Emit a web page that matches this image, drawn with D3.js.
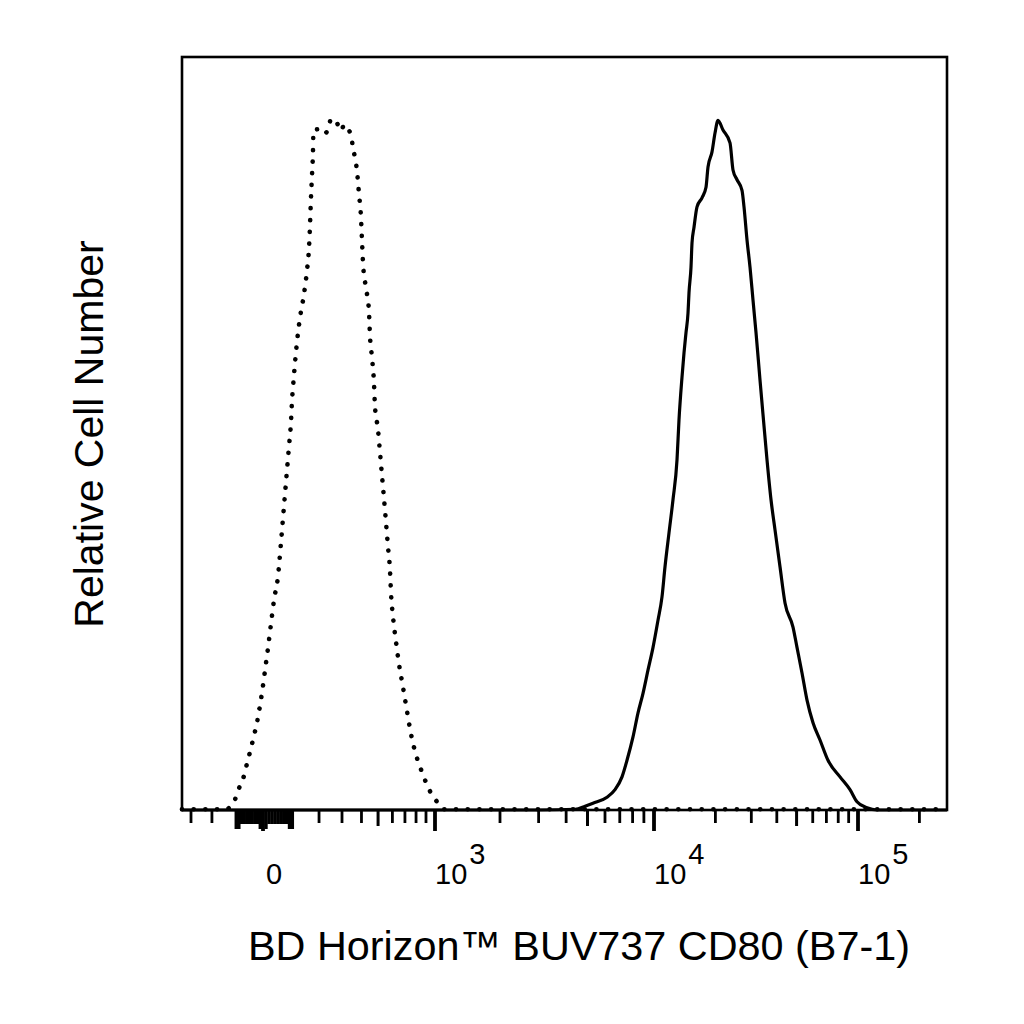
<!DOCTYPE html>
<html>
<head>
<meta charset="utf-8">
<script src="https://cdn.jsdelivr.net/npm/d3@7"></script>
<style>
  html, body { margin: 0; padding: 0; background: #fff; }
  svg { display: block; }
  text { font-family: "Liberation Sans", Arial, "DejaVu Sans", sans-serif; fill: #000; }
</style>
</head>
<body>
<svg id="chart" width="1024" height="1024"></svg>
<script>
// ---------------- data ----------------
// Isotype control (dotted): fluorescence intensity and relative count (% of full scale)
const isoX = [-349, -186, -132, -125, -101, -86, -70, -59, -48, -37, -18, -4, 7, 17, 27, 37, 50, 61, 71, 81, 88, 95, 99, 102, 109, 117, 127, 142, 153, 161, 165, 168, 172, 176, 178, 196, 216, 237, 250, 277, 296, 310, 344, 354, 365, 375, 386, 397, 403, 409, 426, 443, 449, 462, 474, 480, 499, 513, 526, 540, 554, 568, 582, 590, 605, 627, 651, 684, 718, 753, 809, 848, 889, 943, 1022, 1102, 3000, 273000];
const isoY = [0.1, 0.1, 0.2, 0.4, 1.7, 3.2, 4.6, 6.2, 7.7, 9.3, 12.4, 15.5, 18.6, 21.6, 24.8, 27.9, 30.9, 35.7, 40.4, 45.0, 48.2, 51.4, 54.5, 56.0, 59.2, 62.3, 65.3, 68.5, 71.6, 74.8, 78.0, 81.0, 84.1, 87.3, 90.3, 90.4, 89.8, 90.2, 91.8, 91.2, 90.2, 91.0, 89.6, 88.0, 86.6, 85.0, 81.9, 78.8, 75.6, 72.5, 69.3, 66.3, 63.1, 60.0, 56.7, 53.7, 50.6, 47.4, 44.4, 41.3, 38.1, 34.9, 31.9, 28.7, 25.6, 22.4, 19.4, 16.3, 13.1, 10.1, 6.9, 5.4, 4.0, 2.5, 1.1, 0.1, 0.1, 0.1];

// CD80 stained (solid)
const cd80X = [-349, 3000, 4394, 4875, 5294, 6127, 6661, 7165, 7548, 8035, 8466, 8918, 9397, 9900, 10462, 10945, 11323, 11845, 12391, 12966, 13261, 13719, 14032, 14353, 14680, 14847, 15186, 15358, 15710, 16251, 17194, 17988, 18399, 19249, 19911, 20598, 21793, 23586, 24396, 25524, 27005, 27622, 28575, 29558, 30576, 31630, 33090, 34230, 35810, 37464, 39194, 41468, 43877, 48021, 50238, 53157, 56241, 60180, 65126, 71280, 81626, 91373, 98889, 110715, 123945, 273000];
const cd80Y = [0, 0, 0.1, 0.5, 0.9, 1.7, 2.7, 4.4, 6.6, 9.7, 12.9, 15.5, 18.6, 21.6, 25.2, 28.3, 32.3, 36.8, 41.2, 46.5, 51.8, 57.5, 60.7, 63.4, 66.0, 68.7, 72.1, 75.3, 77.4, 80.1, 81.3, 82.7, 85.4, 87.4, 89.9, 91.6, 90.3, 88.6, 85.0, 83.7, 82.3, 80.1, 75.7, 72.1, 67.7, 63.4, 57.1, 52.5, 46.5, 41.2, 37.2, 32.3, 27.5, 24.3, 21.6, 18.2, 14.6, 11.6, 9.3, 6.6, 4.4, 2.7, 1.1, 0.3, 0, 0];

// axis ticks
const majorTicks = [0, 1000, 10000, 100000];
const tickLabelBase = ["0", "10", "10", "10"];
const tickLabelExp = ["", "3", "4", "5"];
const midTicks = [500, 5000, 50000];
const nearZeroLong = [-100, -90, -10, 10, 90, 100];
const nearZeroShort = [-80, -70, -60, -50, -40, -30, -20, 20, 30, 40, 50, 60, 70, 80];
const minorTicks = [-300, -200,
  200, 300, 400, 600, 700, 800, 900,
  2000, 3000, 4000, 6000, 7000, 8000, 9000,
  20000, 30000, 40000, 60000, 70000, 80000, 90000, 200000];

const xTitle = "BD Horizon™ BUV737 CD80 (B7-1)";
const yTitle = "Relative Cell Number";

// ---------------- layout ----------------
const plot = { left: 182, right: 947, top: 57, bottom: 810 };
const svg = d3.select("#chart");

// biexponential-like display transform
const T = v => Math.asinh(v / 300);
const xLin = d3.scaleLinear()
  .domain([T(-300), T(0), T(1000), T(10000), T(100000)])
  .range([191, 263, 435, 654, 858]);
const x = v => xLin(T(v));
const y = d3.scaleLinear().domain([0, 100]).range([plot.bottom, plot.top]);

const g = svg.append("g");

// frame
g.append("rect")
  .attr("x", plot.left).attr("y", plot.top)
  .attr("width", plot.right - plot.left).attr("height", plot.bottom - plot.top)
  .attr("fill", "none").attr("stroke", "#000").attr("stroke-width", 2.6);

// ticks
function drawTicks(vals, len, w) {
  g.selectAll(null).data(vals).enter().append("line")
    .attr("x1", d => x(d)).attr("x2", d => x(d))
    .attr("y1", plot.bottom).attr("y2", plot.bottom + len)
    .attr("stroke", "#000").attr("stroke-width", w);
}
drawTicks(minorTicks, 13, 2.8);
drawTicks(nearZeroShort, 14, 3.4);
drawTicks(nearZeroLong, 19, 3.4);
drawTicks(midTicks, 16, 3);
drawTicks(majorTicks, 21, 3.8);

// tick labels
majorTicks.forEach((v, i) => {
  const t = g.append("text")
    .attr("x", x(v) + (i === 0 ? 3 : 0))
    .attr("y", 884)
    .attr("font-size", 29)
    .text(tickLabelBase[i]);
  if (tickLabelExp[i]) {
    t.append("tspan").attr("dx", 2).attr("dy", -20).text(tickLabelExp[i]);
  }
});

// curves
const line = d3.line().x(d => x(d[0])).y(d => y(d[1])).curve(d3.curveMonotoneX);

g.append("path")
  .datum(isoX.map((v, i) => [v, isoY[i]]))
  .attr("d", line)
  .attr("fill", "none").attr("stroke", "#000")
  .attr("stroke-width", 4.6)
  .attr("stroke-linecap", "round")
  .attr("stroke-dasharray", "0.1 11.6");

g.append("path")
  .datum(cd80X.map((v, i) => [v, cd80Y[i]]))
  .attr("d", line)
  .attr("fill", "none").attr("stroke", "#000")
  .attr("stroke-width", 3.2)
  .attr("stroke-linejoin", "round");

// axis titles
svg.append("text")
  .attr("x", 248).attr("y", 960)
  .attr("font-size", 41)
  .attr("textLength", 662)
  .attr("lengthAdjust", "spacingAndGlyphs")
  .text(xTitle);

svg.append("text")
  .attr("transform", "translate(103,434) rotate(-90)")
  .attr("text-anchor", "middle")
  .attr("font-size", 41)
  .text(yTitle);
</script>
</body>
</html>
